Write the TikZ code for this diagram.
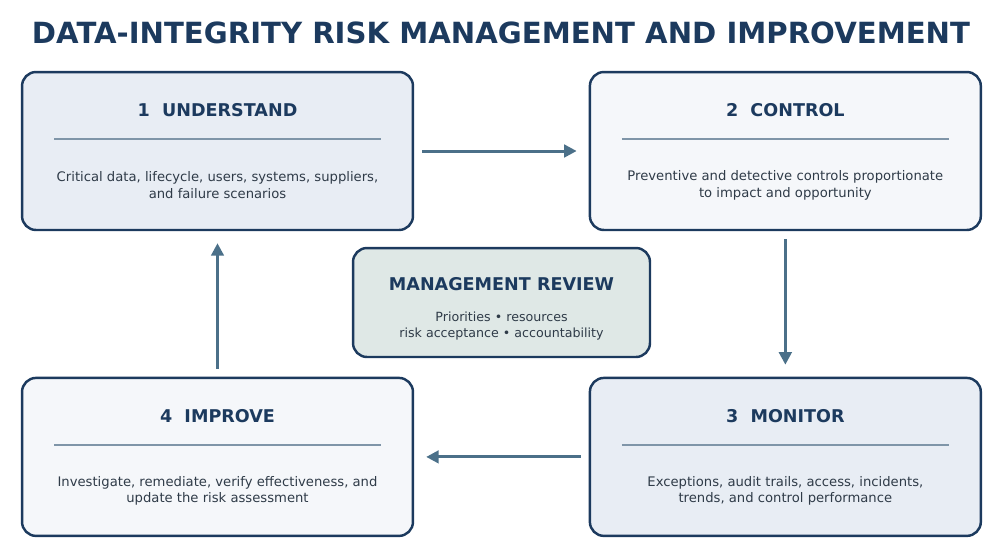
\documentclass[tikz,border=0pt]{standalone}
\usepackage{fontspec}
\setmainfont{DejaVu Sans}
\usepackage{tikz}
\usetikzlibrary{arrows.meta}
\usetikzlibrary{positioning}

\definecolor{navy}{HTML}{1C3A5E}
\definecolor{flowblue}{HTML}{4B7089}
\definecolor{rulegray}{HTML}{7F95A8}
\definecolor{bodytext}{HTML}{2F3B48}
\definecolor{fillA}{HTML}{E8EDF4}
\definecolor{fillB}{HTML}{F5F7FA}
\definecolor{fillR}{HTML}{DFE8E6}

\tikzset{
  stage/.style={draw=navy, line width=1.4pt, rounded corners=0.28cm,
    minimum width=7.82cm, minimum height=3.16cm, inner sep=0pt},
  stagetitle/.style={text=navy, font=\fontsize{10}{12}\selectfont\bfseries},
  stagebody/.style={text=bodytext, align=center,
    font=\fontsize{7.5}{9.6}\selectfont},
  divider/.style={draw=rulegray, line width=1.1pt},
  flow/.style={draw=flowblue, line width=1.7pt,
    -{Triangle[length=0.25cm, width=0.25cm]},
    shorten <=0.16cm, shorten >=0.24cm}
}

\begin{document}
\begin{tikzpicture}[x=0.02cm, y=-0.02cm]

\useasboundingbox (0,0) rectangle (1000,552);

\node[text=navy, font=\fontsize{16.6}{19}\selectfont\bfseries] (heading) at (501,33)
  {DATA-INTEGRITY RISK MANAGEMENT AND IMPROVEMENT};

% the four stages
\node[stage, fill=fillA] (understand) at (217.5,151) {};
\node[stage, fill=fillB, right=3.49cm of understand] (control) {};
\node[stage, fill=fillA, below=2.91cm of control] (monitor) {};
\node[stage, fill=fillB, below=2.91cm of understand] (improve) {};

\node[stagetitle] (understand-title) at ([yshift=0.82cm]understand.center) {1\ \ UNDERSTAND};
\draw[divider] ([xshift=-3.27cm, yshift=0.24cm]understand.center) -- ([xshift=3.27cm, yshift=0.24cm]understand.center);
\node[stagebody] (understand-body) at ([yshift=-0.68cm]understand.center)
  {Critical data, lifecycle, users, systems, suppliers,\\and failure scenarios};

\node[stagetitle] (control-title) at ([yshift=0.82cm]control.center) {2\ \ CONTROL};
\draw[divider] ([xshift=-3.27cm, yshift=0.24cm]control.center) -- ([xshift=3.27cm, yshift=0.24cm]control.center);
\node[stagebody] (control-body) at ([yshift=-0.68cm]control.center)
  {Preventive and detective controls proportionate\\to impact and opportunity};

\node[stagetitle] (monitor-title) at ([yshift=0.82cm]monitor.center) {3\ \ MONITOR};
\draw[divider] ([xshift=-3.27cm, yshift=0.24cm]monitor.center) -- ([xshift=3.27cm, yshift=0.24cm]monitor.center);
\node[stagebody] (monitor-body) at ([yshift=-0.68cm]monitor.center)
  {Exceptions, audit trails, access, incidents,\\trends, and control performance};

\node[stagetitle] (improve-title) at ([yshift=0.82cm]improve.center) {4\ \ IMPROVE};
\draw[divider] ([xshift=-3.27cm, yshift=0.24cm]improve.center) -- ([xshift=3.27cm, yshift=0.24cm]improve.center);
\node[stagebody] (improve-body) at ([yshift=-0.68cm]improve.center)
  {Investigate, remediate, verify effectiveness, and\\update the risk assessment};

% management review in the middle
\node[stage, fill=fillR, minimum width=5.94cm, minimum height=2.18cm] (review) at (501.5,302.5) {};
\node[stagetitle] (review-title) at ([yshift=0.37cm]review.center) {MANAGEMENT REVIEW};
\node[stagebody, font=\fontsize{7.2}{9}\selectfont] (review-body) at ([yshift=-0.47cm]review.center)
  {Priorities \textbullet\ resources\\risk acceptance \textbullet\ accountability};

% cycle
\draw[flow] (understand) -- (control);
\draw[flow] (control) -- (monitor);
\draw[flow] (monitor) -- (improve);
\draw[flow] (improve) -- (understand);

\end{tikzpicture}
\end{document}
